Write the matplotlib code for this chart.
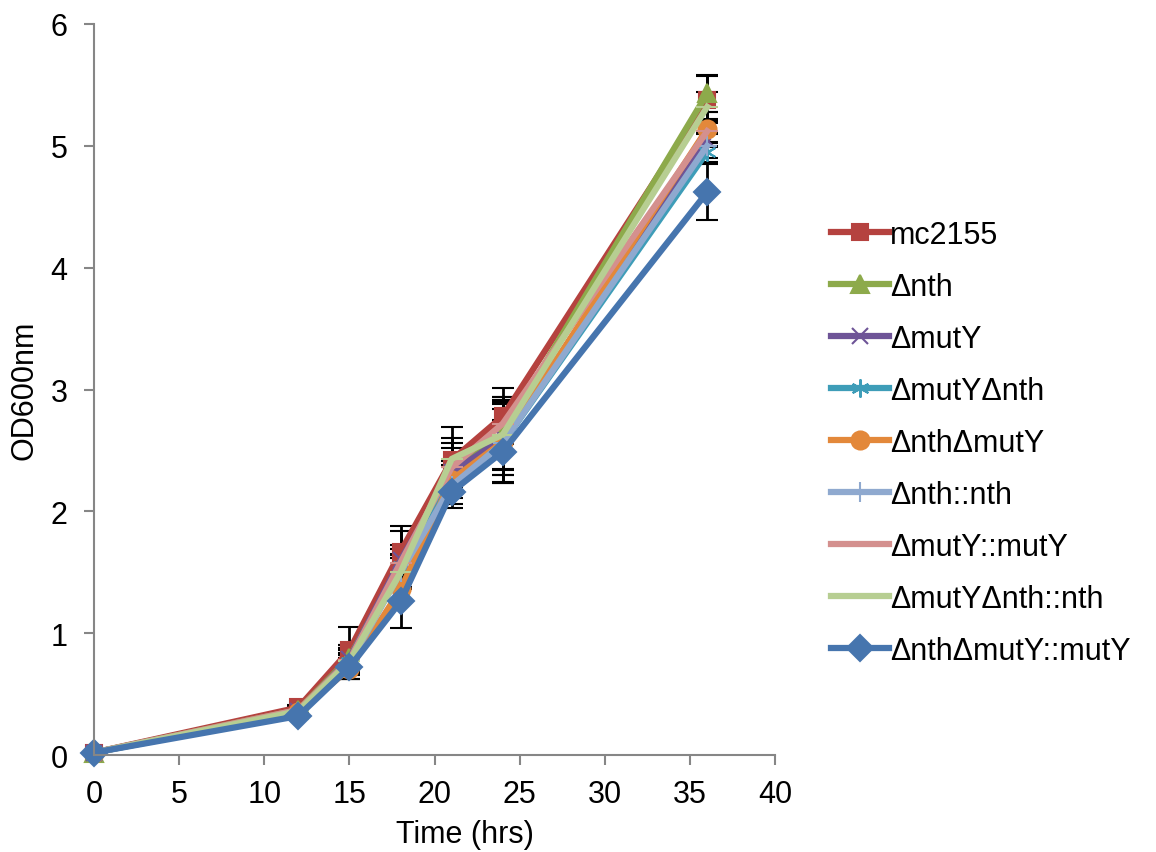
import matplotlib
matplotlib.use('Agg')
import matplotlib.pyplot as plt

plt.rcParams['font.family'] = ['Liberation Sans', 'DejaVu Sans']

# sampling times (hrs)
times = [0, 12, 15, 18, 21, 24, 36]

labels = ['mc2155', 'Δnth', 'ΔmutY', 'ΔmutYΔnth', 'ΔnthΔmutY',
          'Δnth::nth', 'ΔmutY::mutY', 'ΔmutYΔnth::nth', 'ΔnthΔmutY::mutY']

# OD600 means per strain
od_mc2155 = [0.02, 0.39, 0.86, 1.67, 2.42, 2.78, 5.38]
od_nth = [0.02, 0.37, 0.80, 1.57, 2.36, 2.64, 5.43]
od_mutY = [0.02, 0.36, 0.79, 1.60, 2.32, 2.60, 5.05]
od_mutY_nth = [0.02, 0.34, 0.76, 1.55, 2.26, 2.56, 4.95]
od_nth_mutY = [0.02, 0.35, 0.71, 1.36, 2.26, 2.57, 5.14]
od_nth_comp = [0.02, 0.35, 0.75, 1.50, 2.21, 2.56, 5.00]
od_mutY_comp = [0.02, 0.37, 0.78, 1.58, 2.36, 2.72, 5.12]
od_mutY_nth_comp = [0.02, 0.36, 0.77, 1.50, 2.43, 2.63, 5.32]
od_nth_mutY_comp = [0.02, 0.32, 0.72, 1.26, 2.16, 2.49, 4.62]

# standard deviations
sd_mc2155 = [0.0, 0.02, 0.19, 0.21, 0.27, 0.23, 0.19]
sd_nth = [0.0, 0.02, 0.10, 0.12, 0.20, 0.30, 0.15]
sd_mutY = [0.0, 0.02, 0.08, 0.24, 0.10, 0.30, 0.06]
sd_mutY_nth = [0.0, 0.02, 0.14, 0.10, 0.15, 0.33, 0.08]
sd_nth_mutY = [0.0, 0.02, 0.09, 0.10, 0.12, 0.27, 0.14]
sd_nth_comp = [0.0, 0.02, 0.09, 0.12, 0.15, 0.32, 0.10]
sd_mutY_comp = [0.0, 0.02, 0.10, 0.14, 0.16, 0.22, 0.10]
sd_mutY_nth_comp = [0.0, 0.02, 0.09, 0.14, 0.17, 0.28, 0.12]
sd_nth_mutY_comp = [0.0, 0.02, 0.10, 0.22, 0.13, 0.26, 0.23]

series = [od_mc2155, od_nth, od_mutY, od_mutY_nth, od_nth_mutY,
          od_nth_comp, od_mutY_comp, od_mutY_nth_comp, od_nth_mutY_comp]
errors = [sd_mc2155, sd_nth, sd_mutY, sd_mutY_nth, sd_nth_mutY,
          sd_nth_comp, sd_mutY_comp, sd_mutY_nth_comp, sd_nth_mutY_comp]

colors = ['#B5423F', '#8DAA4B', '#6E5497', '#3E9DB8', '#E3883A',
          '#8FA9CF', '#D4908E', '#B7CE92', '#4675AE']
markers = ['s', '^', 'x', (6, 2, 0), 'o', '+', '_', '_', 'D']
msizes = [12, 13, 12, 13, 13, 15, 16, 16, 13]

fig = plt.figure(figsize=(11.56, 8.53), dpi=100)
ax = fig.add_axes([0.0813, 0.1137, 0.5894, 0.857])

for y, e, lab, c, m, ms in zip(series, errors, labels, colors, markers, msizes):
    ax.errorbar(times, y, yerr=e, color=c, lw=4.5, marker=m, markersize=ms,
                markeredgewidth=1.5, label=lab,
                ecolor='black', elinewidth=2, capsize=8, capthick=2)

ax.set_xlim(0, 40)
ax.set_ylim(0, 6)
ax.set_xticks(range(0, 41, 5))
ax.set_yticks(range(0, 7))
ax.set_xlabel('Time (hrs)', fontsize=22, labelpad=0)
ax.xaxis.set_label_coords(0.545, -0.087)
ax.set_ylabel('OD600nm', fontsize=22, labelpad=8)
ax.tick_params(labelsize=22, direction='out', length=7, width=1.5,
               color='#868686')
ax.tick_params(axis='y', pad=12)
ax.tick_params(axis='x', pad=10)
ax.spines['top'].set_visible(False)
ax.spines['right'].set_visible(False)
for s in ['left', 'bottom']:
    ax.spines[s].set_color('#868686')
    ax.spines[s].set_linewidth(1.5)
for ln in ax.lines:
    ln.set_clip_on(False)

handles, labs = ax.get_legend_handles_labels()
handles = [h[0] for h in handles]
ax.legend(handles, labs, loc='center left', bbox_to_anchor=(1.041, 0.4275),
          frameon=False, fontsize=22, numpoints=1, handlelength=1.9,
          handletextpad=0.05, labelspacing=0.72)

fig.savefig('out.png')
